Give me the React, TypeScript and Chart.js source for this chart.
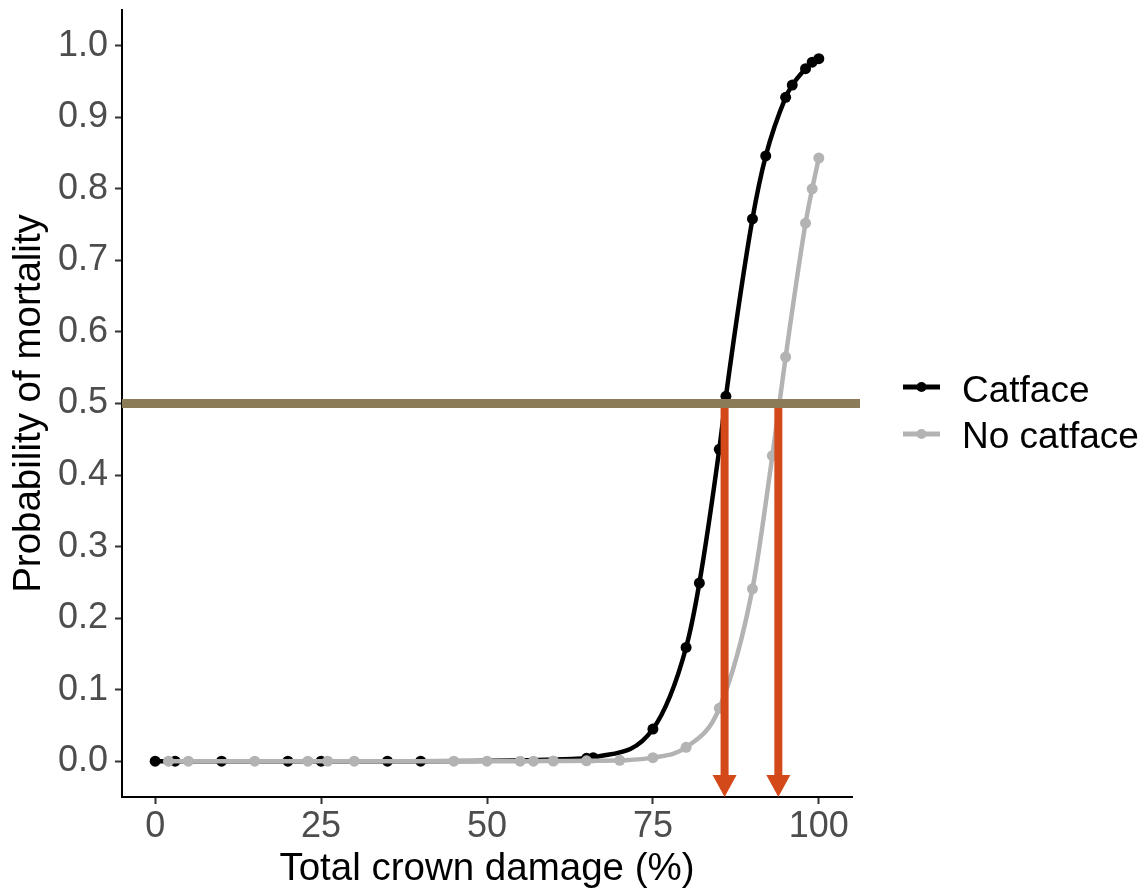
import React, { useEffect, useRef } from "react";
import { Chart, registerables } from "chart.js";

Chart.register(...registerables);

// ---- data ----
const seriesNames = ["Catface", "No catface"];
const seriesColors = ["#000000", "#B3B3B3"];

const catfaceX = [0, 3, 10, 20, 25, 35, 40, 65, 66, 75, 80, 82, 85, 86, 90, 92, 95, 96, 98, 99, 100];
const catfaceY = [0, 0, 0, 0, 0, 0, 0, 0.004, 0.005, 0.045, 0.159, 0.249, 0.436, 0.51, 0.758, 0.846, 0.928, 0.945, 0.968, 0.977, 0.982];

const noCatfaceX = [2, 5, 15, 23, 26, 30, 45, 50, 55, 57, 60, 65, 70, 75, 80, 85, 90, 93, 95, 98, 99, 100];
const noCatfaceY = [0, 0, 0, 0, 0, 0, 0, 0, 0, 0, 0.0003, 0.0005, 0.0012, 0.005, 0.0195, 0.074, 0.241, 0.427, 0.565, 0.752, 0.8, 0.843];

const xTicks = [0, 25, 50, 75, 100];
const yTicks = [0, 0.1, 0.2, 0.3, 0.4, 0.5, 0.6, 0.7, 0.8, 0.9, 1.0];

const thresholdY = 0.5;
const arrowX = [85.8, 93.9];

const xTitle = "Total crown damage (%)";
const yTitle = "Probability of mortality";

const FONT = '"Liberation Sans", Arial, sans-serif';
const HLINE_COLOR = "#8C7B57";
const ARROW_COLOR = "#D4491A";

const overlayPlugin = {
  id: "overlay",
  afterDatasetsDraw(chart: any) {
    const { ctx, chartArea, scales } = chart;
    const x = scales.x;
    const y = scales.y;
    const yTop = y.getPixelForValue(thresholdY);
    const yBottom = y.getPixelForValue(y.min);
    const headH = 22;
    const headW = 24;
    ctx.save();
    ctx.fillStyle = ARROW_COLOR;
    for (const ax of arrowX) {
      const px = x.getPixelForValue(ax);
      ctx.fillRect(px - 4, yTop, 8, yBottom - headH - yTop + 1);
      ctx.beginPath();
      ctx.moveTo(px - headW / 2, yBottom - headH);
      ctx.lineTo(px + headW / 2, yBottom - headH);
      ctx.lineTo(px, yBottom);
      ctx.closePath();
      ctx.fill();
    }
    ctx.strokeStyle = HLINE_COLOR;
    ctx.lineWidth = 9;
    ctx.lineCap = "butt";
    ctx.beginPath();
    ctx.moveTo(chartArea.left, yTop);
    ctx.lineTo(chartArea.right + 8, yTop);
    ctx.stroke();
    ctx.restore();
  },
  afterDraw(chart: any) {
    const { ctx, chartArea } = chart;
    const lx = chartArea.right + 51;
    ctx.save();
    seriesNames.forEach((name, i) => {
      const ly = 387 + i * 47;
      ctx.strokeStyle = seriesColors[i];
      ctx.fillStyle = seriesColors[i];
      ctx.lineWidth = 5;
      ctx.beginPath();
      ctx.moveTo(lx, ly);
      ctx.lineTo(lx + 37, ly);
      ctx.stroke();
      ctx.beginPath();
      ctx.arc(lx + 18.5, ly, 5, 0, Math.PI * 2);
      ctx.fill();
      ctx.fillStyle = "#000000";
      ctx.font = `37px ${FONT}`;
      ctx.textBaseline = "alphabetic";
      ctx.textAlign = "left";
      ctx.fillText(name, lx + 59, 402 + i * 46);
    });
    ctx.restore();
  },
};

export default function App() {
  const canvasRef = useRef<HTMLCanvasElement | null>(null);

  useEffect(() => {
    const canvas = canvasRef.current;
    if (!canvas) return;
    const chart = new Chart(canvas, {
      type: "line",
      data: {
        datasets: [
          {
            label: seriesNames[0],
            data: catfaceX.map((v, i) => ({ x: v, y: catfaceY[i] })),
            borderColor: seriesColors[0],
            backgroundColor: seriesColors[0],
            borderWidth: 4.5,
            pointRadius: 5.5,
            pointBorderWidth: 0,
            cubicInterpolationMode: "monotone",
            order: 2,
          },
          {
            label: seriesNames[1],
            data: noCatfaceX.map((v, i) => ({ x: v, y: noCatfaceY[i] })),
            borderColor: seriesColors[1],
            backgroundColor: seriesColors[1],
            borderWidth: 4.5,
            pointRadius: 5.5,
            pointBorderWidth: 0,
            cubicInterpolationMode: "monotone",
            order: 1,
          },
        ],
      },
      options: {
        animation: false,
        responsive: false,
        devicePixelRatio: 1,
        layout: { padding: { top: 10, right: 295, bottom: 0, left: 0 } },
        plugins: {
          legend: { display: false },
          tooltip: { enabled: false },
        },
        scales: {
          x: {
            type: "linear",
            min: -5,
            max: 105,
            afterBuildTicks: (scale: any) => {
              scale.ticks = xTicks.map((v) => ({ value: v }));
            },
            afterFit: (scale: any) => {
              scale.height = 94;
              scale.paddingLeft = 0;
              scale.paddingRight = 0;
            },
            ticks: {
              color: "#4D4D4D",
              font: { family: FONT, size: 36 },
              padding: 1,
              maxRotation: 0,
              autoSkip: false,
              callback: (v: any) => String(v),
            },
            grid: {
              display: true,
              drawOnChartArea: false,
              drawTicks: true,
              tickLength: 7,
              tickWidth: 2,
              tickColor: "#333333",
            },
            border: { display: true, color: "#000000", width: 2 },
            title: {
              display: true,
              text: xTitle,
              color: "#000000",
              font: { family: FONT, size: 38.5, lineHeight: 1 },
              padding: { top: 0, bottom: 2 },
            },
          },
          y: {
            type: "linear",
            min: -0.05,
            max: 1.05,
            afterBuildTicks: (scale: any) => {
              scale.ticks = yTicks.map((v) => ({ value: v }));
            },
            afterFit: (scale: any) => {
              scale.width = 122;
              scale.paddingTop = 0;
              scale.paddingBottom = 0;
            },
            ticks: {
              color: "#4D4D4D",
              font: { family: FONT, size: 36 },
              padding: 7,
              autoSkip: false,
              callback: (v: any) => Number(v).toFixed(1),
            },
            grid: {
              display: true,
              drawOnChartArea: false,
              drawTicks: true,
              tickLength: 7,
              tickWidth: 2,
              tickColor: "#333333",
            },
            border: { display: true, color: "#000000", width: 2 },
            title: {
              display: true,
              text: yTitle,
              color: "#000000",
              font: { family: FONT, size: 38.5, lineHeight: 1 },
              padding: { top: 10, bottom: 0 },
            },
          },
        },
      },
      plugins: [overlayPlugin],
    } as any);
    return () => chart.destroy();
  }, []);

  return (
    <div
      style={{
        position: "fixed",
        left: 0,
        top: 0,
        width: 1147,
        height: 891,
        background: "#ffffff",
      }}
    >
      <canvas ref={canvasRef} width={1147} height={891} style={{ display: "block" }} />
    </div>
  );
}
